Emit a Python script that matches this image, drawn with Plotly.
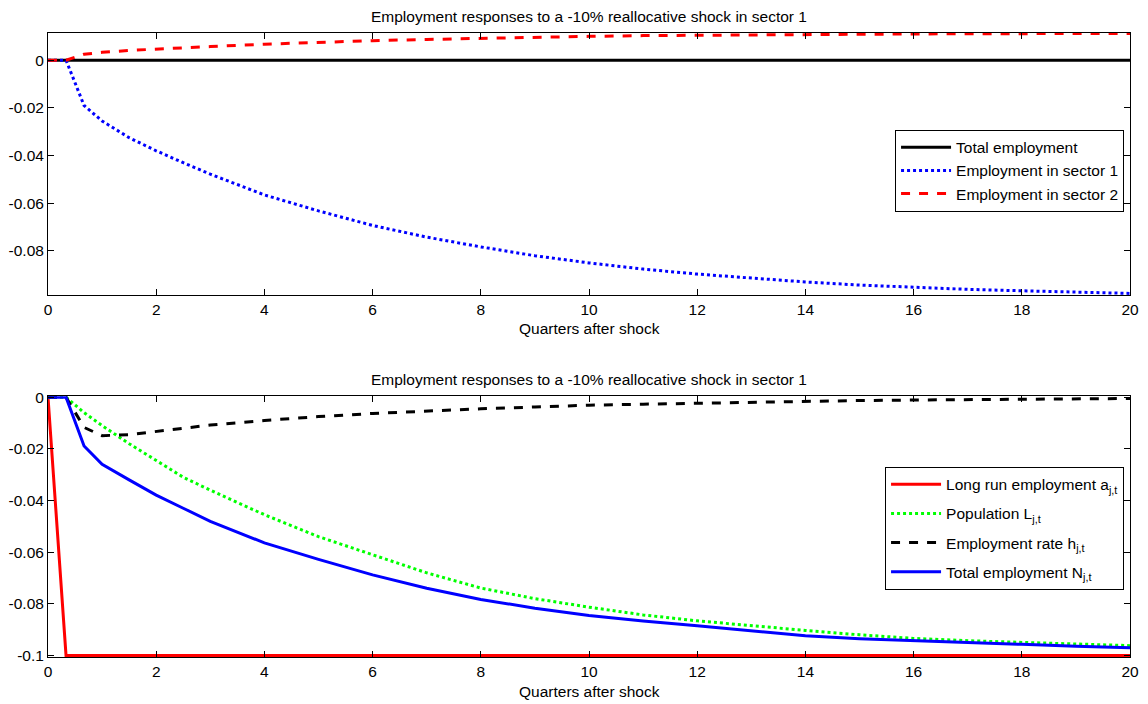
import plotly.graph_objects as go

# ---------------- data ----------------
quarters = [0, 1/3, 2/3, 1, 1.5, 2, 2.5, 3, 4, 5, 6, 7, 8, 9, 10,
            11, 12, 13, 14, 15, 16, 17, 18, 19, 20]

total_employment = [0.0] * len(quarters)
employment_sector1 = [0, 0, -0.0190, -0.0255, -0.0325, -0.0380, -0.0430, -0.0478,
                      -0.0565, -0.0632, -0.0693, -0.0742, -0.0783, -0.0820, -0.0850,
                      -0.0876, -0.0897, -0.0915, -0.0930, -0.0943, -0.0953, -0.0961,
                      -0.0967, -0.0973, -0.0978]
employment_sector2 = [0, 0, 0.0025, 0.0033, 0.0041, 0.0047, 0.0052, 0.0057,
                      0.0067, 0.0076, 0.0082, 0.0087, 0.0092, 0.0096, 0.0100,
                      0.0103, 0.0105, 0.0107, 0.0108, 0.0109, 0.0110, 0.0111,
                      0.0111, 0.0112, 0.0112]

long_run_a = [0] + [-0.1] * (len(quarters) - 1)
population_L = [0, 0, -0.0060, -0.0110, -0.0180, -0.0245, -0.0310, -0.0360,
                -0.0455, -0.0540, -0.0610, -0.0680, -0.0739, -0.0780, -0.0813,
                -0.0843, -0.0866, -0.0885, -0.0903, -0.0920, -0.0934, -0.0943,
                -0.0950, -0.0957, -0.0962]
employment_rate_h = [0, 0, -0.0117, -0.0149, -0.0145, -0.0132, -0.0120, -0.0108,
                     -0.0090, -0.0075, -0.0063, -0.0053, -0.0045, -0.0038, -0.0031,
                     -0.0027, -0.0023, -0.0019, -0.0016, -0.0013, -0.0011, -0.0009,
                     -0.0008, -0.0006, -0.0005]
total_employment_N = [0, 0, -0.0189, -0.0260, -0.0320, -0.0379, -0.0430, -0.0481,
                      -0.0564, -0.0628, -0.0688, -0.0740, -0.0783, -0.0817, -0.0845,
                      -0.0867, -0.0885, -0.0905, -0.0924, -0.0935, -0.0943, -0.0951,
                      -0.0957, -0.0964, -0.0970]

x_ticks = [0, 2, 4, 6, 8, 10, 12, 14, 16, 18, 20]
top_y_ticks = [0, -0.02, -0.04, -0.06, -0.08]
top_y_labels = ["0", "-0.02", "-0.04", "-0.06", "-0.08"]
bot_y_ticks = [0, -0.02, -0.04, -0.06, -0.08, -0.1]
bot_y_labels = ["0", "-0.02", "-0.04", "-0.06", "-0.08", "-0.1"]

title_text = "Employment responses to a -10% reallocative shock in sector 1"
xlabel_text = "Quarters after shock"

# ---------------- figure ----------------
FONT = "Liberation Sans, Arial, sans-serif"
FS = 15.5
fig = go.Figure()

# top panel
fig.add_trace(go.Scatter(x=quarters, y=total_employment, mode="lines",
                         name="Total employment",
                         line=dict(color="black", width=3),
                         xaxis="x", yaxis="y", legend="legend"))
fig.add_trace(go.Scatter(x=quarters, y=employment_sector1, mode="lines",
                         name="Employment in sector 1",
                         line=dict(color="blue", width=3, dash="dot"),
                         xaxis="x", yaxis="y", legend="legend"))
fig.add_trace(go.Scatter(x=quarters, y=employment_sector2, mode="lines",
                         name="Employment in sector 2",
                         line=dict(color="red", width=3, dash="dash"),
                         xaxis="x", yaxis="y", legend="legend"))

# bottom panel
fig.add_trace(go.Scatter(x=quarters, y=long_run_a, mode="lines",
                         name="Long run employment a<sub>j,t</sub>",
                         line=dict(color="red", width=3), legendgroup="g1",
                         xaxis="x2", yaxis="y2", legend="legend2"))
fig.add_trace(go.Scatter(x=quarters, y=population_L, mode="lines",
                         name="Population L<sub>j,t</sub>",
                         line=dict(color="#00ff00", width=3, dash="dot"), legendgroup="g2",
                         xaxis="x2", yaxis="y2", legend="legend2"))
fig.add_trace(go.Scatter(x=quarters, y=employment_rate_h, mode="lines",
                         name="Employment rate h<sub>j,t</sub>",
                         line=dict(color="black", width=3, dash="dash"), legendgroup="g3",
                         xaxis="x2", yaxis="y2", legend="legend2"))
fig.add_trace(go.Scatter(x=quarters, y=total_employment_N, mode="lines",
                         name="Total employment N<sub>j,t</sub>",
                         line=dict(color="blue", width=3), legendgroup="g4",
                         xaxis="x2", yaxis="y2", legend="legend2"))

axis_common = dict(showline=True, linecolor="black", linewidth=1, mirror="ticks",
                   ticks="inside", ticklen=6, tickcolor="black", showgrid=False,
                   zeroline=False, automargin=False,
                   tickfont=dict(family=FONT, size=FS, color="black"))

top_dom = [0.580, 1.0]
bot_dom = [0.0, 0.418]

fig.update_layout(
    width=1148, height=704,
    paper_bgcolor="white", plot_bgcolor="white",
    margin=dict(l=48, r=18, t=33, b=47),
    font=dict(family=FONT, size=FS, color="black"),
    xaxis=dict(domain=[0, 1], anchor="y", range=[0, 20], tickvals=x_ticks, **axis_common),
    yaxis=dict(domain=top_dom, anchor="x", range=[-0.0985, 0.0114],
               tickvals=top_y_ticks, ticktext=top_y_labels, **axis_common),
    xaxis2=dict(domain=[0, 1], anchor="y2", range=[0, 20], tickvals=x_ticks, **axis_common),
    yaxis2=dict(domain=bot_dom, anchor="x2", range=[-0.1006, 0.0004],
                tickvals=bot_y_ticks, ticktext=bot_y_labels, **axis_common),
    legend=dict(x=0.9945, y=0.845, xanchor="right", yanchor="top",
                bgcolor="white", bordercolor="black", borderwidth=1,
                font=dict(family=FONT, size=FS, color="black"),
                tracegroupgap=0, itemwidth=50),
    legend2=dict(x=0.9945, y=0.305, xanchor="right", yanchor="top",
                 bgcolor="white", bordercolor="black", borderwidth=1,
                 font=dict(family=FONT, size=FS, color="black"),
                 tracegroupgap=6, itemwidth=50),
    annotations=[
        dict(text=title_text, x=0.5, y=1.0272, xref="paper", yref="paper",
             xanchor="center", yanchor="middle", showarrow=False,
             font=dict(family=FONT, size=FS)),
        dict(text=xlabel_text, x=0.5, y=0.5272, xref="paper", yref="paper",
             xanchor="center", yanchor="middle", showarrow=False,
             font=dict(family=FONT, size=FS)),
        dict(text=title_text, x=0.5, y=0.4455, xref="paper", yref="paper",
             xanchor="center", yanchor="middle", showarrow=False,
             font=dict(family=FONT, size=FS)),
        dict(text=xlabel_text, x=0.5, y=-0.0545, xref="paper", yref="paper",
             xanchor="center", yanchor="middle", showarrow=False,
             font=dict(family=FONT, size=FS)),
    ],
)

fig.write_html("out.html", config=dict(displayModeBar=False),
               post_script="document.body.style.margin='0px';document.body.style.overflow='hidden';")
